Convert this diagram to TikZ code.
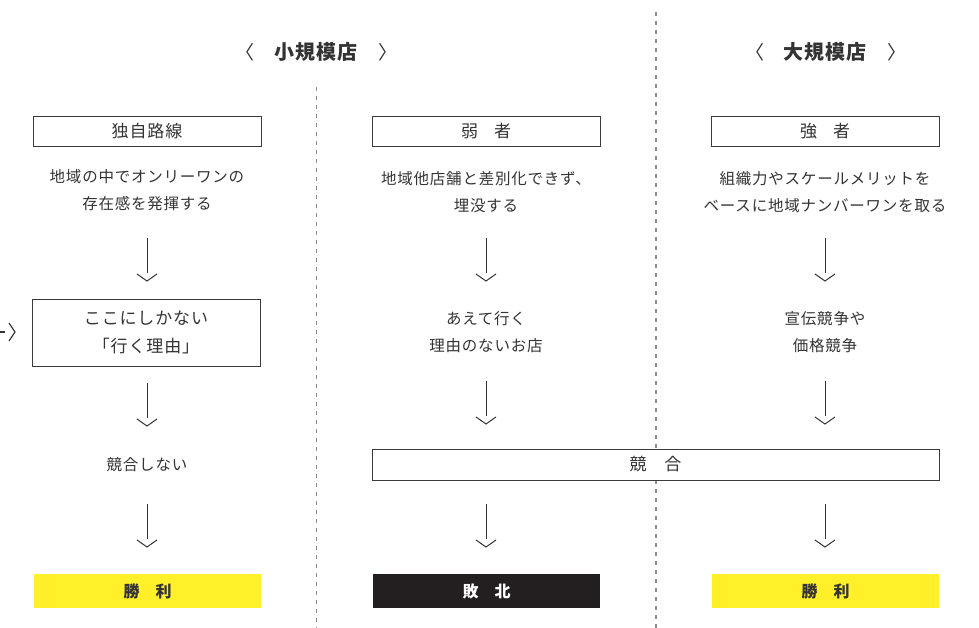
\documentclass[tikz,border=0pt]{standalone}
\usepackage{fontspec}
\newfontfamily\jp[LetterSpace=5]{Noto Sans CJK JP}
\newfontfamily\jph[LetterSpace=4]{Noto Sans CJK JP}
\definecolor{txt}{HTML}{333333}
\definecolor{bord}{HTML}{3A3A3A}
\definecolor{ylw}{HTML}{FFF02A}
\definecolor{blk}{HTML}{231F20}
\definecolor{dsh}{HTML}{8C8C8C}
\tikzset{
  box/.style={draw=bord, line width=0.9pt, minimum width=228pt, minimum height=30pt, inner sep=0pt, text=txt, font=\jp\fontsize{17}{28}\selectfont, align=center},
  body/.style={text=txt, font=\jp\fontsize{15.5}{27.5}\selectfont, align=center, inner sep=0pt},
  result/.style={minimum width=227pt, minimum height=34pt, inner sep=0pt, font=\jp\bfseries\fontsize{16}{18}\selectfont},
  head/.style={text=txt, font=\jph\bfseries\fontsize{20}{22}\selectfont, inner sep=0pt},
  brk/.style={text=txt, font=\jph\fontsize{19}{22}\selectfont, inner sep=0pt},
  arrline/.style={draw=txt, line width=1pt},
  darr/.pic={\draw[arrline] (0,0)--(0,35); \draw[arrline] (-10,36)--(0,43)--(10,36);},
  divider/.style={draw=dsh, line width=1.3pt, dash pattern=on 4pt off 5pt}
}
\begin{document}
\begin{tikzpicture}[x=1pt,y=-1pt]
\useasboundingbox (0,0) rectangle (979,628);
% dividers
\coordinate (d1t) at (316.5,87);
\coordinate (d1b) at (316.5,628);
\coordinate (d2t) at (656,12);
\coordinate (d2b) at (656,628);
\draw[divider] (d1t)--(d1b);
\draw[divider] (d2t)--(d2b);
% headers
\node[brk] (hl1) at (245,52) {〈};
\node[head] (h1) at (316,52) {小規模店};
\node[brk] (hr1) at (388,52) {〉};
\node[brk] (hl2) at (755,52) {〈};
\node[head] (h2) at (825,52) {大規模店};
\node[brk] (hr2) at (897,52) {〉};
% column 1
\node[box] (b1) at (147,131) {独自路線};
\node[body] (t1) at (147,190) {地域の中でオンリーワンの\\存在感を発揮する};
\pic at (147,238) {darr};
\node[box, minimum height=67pt] (b2) at (146,332.5) {ここにしかない\\「行く理由」};
\pic at (147,383) {darr};
\node[body] (t2) at (147,464.5) {競合しない};
\pic at (147,504) {darr};
\node[result, fill=ylw, text=txt] (r1) at (147.5,591) {勝\hspace{16pt}利};
% column 2
\node[box] (b3) at (486,131) {弱\hspace{16pt}者};
\node[body] (t3) at (486,192) {地域他店舗と差別化できず、\\埋没する};
\pic at (486,238) {darr};
\node[body] (t4) at (486,332) {あえて行く\\理由のないお店};
\pic at (486,381) {darr};
\pic at (486,504) {darr};
\node[result, fill=blk, text=white] (r2) at (486.5,591) {敗\hspace{16pt}北};
% column 3
\node[box] (b4) at (825,131) {強\hspace{16pt}者};
\node[body] (t5) at (825,192) {組織力やスケールメリットを\\ベースに地域ナンバーワンを取る};
\pic at (825,238) {darr};
\node[body] (t6) at (825,332) {宣伝競争や\\価格競争};
\pic at (825,381) {darr};
\pic at (825,504) {darr};
\node[result, fill=ylw, text=txt] (r3) at (825.5,591) {勝\hspace{16pt}利};
% shared box
\node[box, minimum width=567pt, minimum height=31pt, fill=white] (b5) at (655.5,464.5) {競\hspace{18pt}合};
% left fragment
\coordinate (f1) at (0,332);
\coordinate (f2) at (5,332);
\draw[arrline, line width=1.2pt] (f1)--(f2);
\draw[arrline, line width=1.2pt] (9,323)--(15,332)--(9,341);
\end{tikzpicture}
\end{document}
